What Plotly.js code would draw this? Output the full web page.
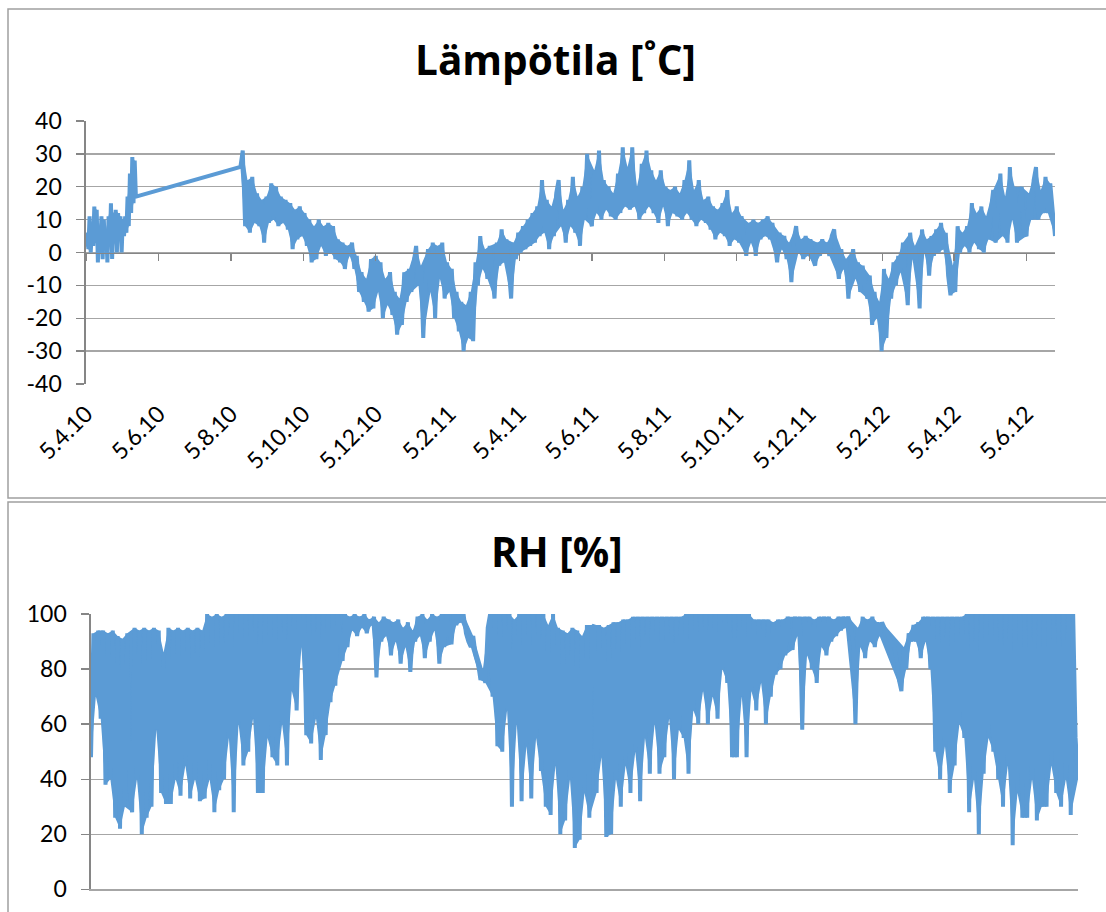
<!DOCTYPE html>
<html><head><meta charset="utf-8">
<script src="https://cdn.plot.ly/plotly-3.0.1.min.js"></script>
<style>html,body{margin:0;padding:0;background:#fff}#chart{width:1106px;height:912px}</style>
</head><body><div id="chart"></div>
<script>
// ---------- texts & ticks ----------
const tempTitle = 'Lämpötila [˚C]';
const rhTitle = 'RH [%]';
const tickDates = ['2010-04-05','2010-06-05','2010-08-05','2010-10-05','2010-12-05','2011-02-05','2011-04-05',
                   '2011-06-05','2011-08-05','2011-10-05','2011-12-05','2012-02-05','2012-04-05','2012-06-05'];
const tickLabels = ['5.4.10','5.6.10','5.8.10','5.10.10','5.12.10','5.2.11','5.4.11',
                    '5.6.11','5.8.11','5.10.11','5.12.11','5.2.12','5.4.12','5.6.12'];
const tempYTicks = [-40,-30,-20,-10,0,10,20,30,40];
const rhYTicks = [0,20,40,60,80,100];
const axisStart = '2010-04-05';
const axisEnd = '2012-06-29';

// ---------- temperature, first logging period (daily) ----------
const tempSeg1Start = '2010-04-05';
const tempSeg1StepDays = 1;
const tempSeg1 = [2,6,1,11,0,9,2,14,3,13,-3,8,0,11,-2,10,1,7,-3,11,2,15,-2,12,3,13,0,12,4,11,0,10,5,11,6,17,8,24,12,29,15,28,17];

// ---------- temperature, second logging period (every 2 days) ----------
const tempSeg2Start = '2010-08-13';
const tempSeg2StepDays = 2;
const tempSeg2 = [
 26,31,8,22,6,23,9,18,8,16,
 3,17,9,21,10,20,8,17,9,16,
 7,15,1,13,4,14,5,12,2,10,
 -3,8,-2,10,2,8,-1,9,0,8,
 -2,4,-3,3,-5,2,-1,3,-5,-1,
 -12,-6,-15,-8,-18,-2,-17,-1,-12,-3,
 -20,-8,-16,-6,-19,-12,-25,-14,-22,-6,
 -15,-5,-12,-3,2,-10,-4,-26,-8,1,
 -12,3,-20,2,-8,3,-14,-3,-12,-5,
 -20,-12,-24,-15,-30,-16,-26,-12,-27,-3,
 -10,5,-5,1,-8,2,-6,-14,3,-4,
 7,-3,4,-6,-14,3,-2,6,0,8,
 1,10,2,12,3,14,5,22,6,16,
 1,14,5,18,22,8,13,3,16,8,
 23,6,17,2,20,10,30,11,8,25,
 12,31,10,22,13,20,11,18,10,24,
 12,32,14,26,13,32,14,20,10,27,
 12,31,14,25,12,22,9,25,14,20,
 8,19,12,20,11,18,10,22,12,28,
 10,19,8,22,10,16,9,17,7,14,
 4,13,6,15,5,19,2,12,4,14,
 3,11,5,-1,9,3,10,-1,9,4,
 10,5,11,4,9,2,-3,6,1,5,
 -2,3,-9,4,8,0,4,-2,5,-1,
 4,-2,-4,3,-1,4,0,3,-1,5,
 7,-2,-8,1,-5,-2,-14,-4,1,-8,
 -3,-12,-4,-10,-14,-7,-22,-12,-20,-15,
 -30,-5,-26,-8,-14,-3,-10,-1,-6,3,
 -8,-16,6,-2,2,-4,-17,7,0,4,
 -7,5,-1,7,0,9,1,6,-7,-13,
 -4,-12,8,0,6,2,8,0,15,3,
 12,1,14,0,11,4,13,19,3,14,
 24,5,17,3,26,10,20,3,15,20,
 6,5,18,10,22,26,10,19,12,23,
 12,21,14,5
];

// ---------- relative humidity (every 2 days) ----------
const rhStart = '2010-04-05';
const rhStepDays = 2;
const rhValues = [
 48,93,70,94,62,94,38,93,40,94,
 26,92,22,91,30,93,36,28,95,40,
 94,20,95,26,94,30,95,58,94,35,
 86,31,95,31,94,40,95,34,94,45,
 95,33,94,40,95,32,94,33,100,40,
 99,28,100,36,99,40,100,55,100,28,
 100,60,100,45,100,50,100,62,100,35,
 100,35,100,55,100,48,100,45,100,60,
 100,45,100,72,100,65,100,88,100,56,
 100,53,100,62,100,47,100,56,100,68,
 100,74,100,90,83,100,88,99,94,100,
 92,99,95,100,93,98,96,99,77,97,
 90,99,92,98,85,97,90,98,82,95,
 88,97,79,94,90,99,92,100,84,98,
 90,100,94,99,82,100,88,100,95,89,
 100,96,100,97,100,93,90,88,92,85,
 82,76,80,75,95,100,70,100,52,100,
 50,100,65,100,30,98,60,100,32,100,
 52,100,33,100,55,100,43,100,30,96,
 27,100,45,95,20,94,25,93,40,95,
 15,94,18,92,35,96,26,95,96,35,
 96,48,95,19,96,20,97,40,97,30,
 98,45,98,35,99,50,99,32,99,55,
 99,42,99,60,99,42,99,48,99,62,
 99,40,99,58,99,55,100,42,100,65,
 100,60,100,72,100,60,100,70,100,62,
 100,80,100,75,100,48,100,48,100,70,
 100,48,100,72,98,65,98,75,98,60,
 98,70,97,78,98,80,98,85,99,90,
 87,99,92,99,58,99,85,99,80,98,
 75,99,88,99,85,99,90,98,92,99,
 94,99,95,99,96,90,60,95,88,99,
 84,98,90,99,88,97,92,97,95,93,
 91,89,88,84,76,72,88,80,93,90,
 96,90,97,84,99,90,99,80,99,50,
 99,40,99,52,99,35,99,45,99,60,
 99,55,100,28,100,40,100,20,100,42,
 100,55,100,50,100,40,100,30,100,45,
 100,16,100,35,100,26,100,26,100,40,
 100,25,100,30,100,30,100,45,100,35,
 100,30,100,40,100,27,100,55,40
];

// ---------- helpers ----------
function dateSeries(start, stepDays, n) {
  const t0 = Date.parse(start + 'T00:00:00Z');
  const out = [];
  for (let i = 0; i < n; i++) out.push(new Date(t0 + i * stepDays * 86400000).toISOString().slice(0, 10));
  return out;
}
// polygon through the local maxima (top) and local minima (bottom) of a dense oscillating series
function envelope(xs, ys) {
  const up = [], lo = [], n = ys.length;
  for (let i = 0; i < n; i++) {
    const p = i > 0 ? ys[i - 1] : ys[i], q = i < n - 1 ? ys[i + 1] : ys[i];
    if (i === 0 || i === n - 1 || (ys[i] >= p && ys[i] >= q)) up.push(i);
    if (i === 0 || i === n - 1 || (ys[i] <= p && ys[i] <= q)) lo.push(i);
  }
  lo.reverse();
  const idx = up.concat(lo);
  return {x: idx.map(i => xs[i]), y: idx.map(i => ys[i])};
}

const W = 1106, H = 912;
const fx = p => p / W;
const fy = p => 1 - p / H;

const tempX1 = dateSeries(tempSeg1Start, tempSeg1StepDays, tempSeg1.length);
const tempX2 = dateSeries(tempSeg2Start, tempSeg2StepDays, tempSeg2.length);
const tempX = tempX1.concat(tempX2);
const tempY = tempSeg1.concat(tempSeg2);
const rhX = dateSeries(rhStart, rhStepDays, rhValues.length);

const BLUE = '#5B9BD5';
const lineStyle = {color: BLUE, width: 4};
const FONT = 'Lato, "Open Sans", "DejaVu Sans", sans-serif';
const TITLE_FONT = '"Open Sans", Lato, sans-serif';
const GRID = '#a6a6a6', AXIS = '#868686';

const tempRange = [-40, 40];
const tempDomain = [fy(384), fy(121)];
const zeroPos = tempDomain[0] + (0 - tempRange[0]) / (tempRange[1] - tempRange[0]) * (tempDomain[1] - tempDomain[0]);

function band(xs, ys, xa, ya) {
  const e = envelope(xs, ys);
  return {x: e.x, y: e.y, type: 'scatter', mode: 'lines', fill: 'toself', fillcolor: BLUE,
          line: {width: 0, color: BLUE}, xaxis: xa, yaxis: ya, hoverinfo: 'skip', showlegend: false};
}

const traces = [
  band(tempX1, tempSeg1, 'x', 'y'),
  band(tempX2, tempSeg2, 'x', 'y'),
  {x: tempX, y: tempY, type: 'scatter', mode: 'lines', line: lineStyle, xaxis: 'x', yaxis: 'y', hoverinfo: 'skip', showlegend: false},
  {x: [axisStart, axisEnd], y: [null, null], type: 'scatter', mode: 'lines', xaxis: 'x3', yaxis: 'y', hoverinfo: 'skip', showlegend: false},
  band(rhX, rhValues, 'x2', 'y2'),
  {x: rhX, y: rhValues, type: 'scatter', mode: 'lines', line: lineStyle, xaxis: 'x2', yaxis: 'y2', hoverinfo: 'skip', showlegend: false}
];

const tickFont = {family: FONT, size: 23, color: '#000'};
const layout = {
  width: W, height: H,
  margin: {l: 0, r: 0, t: 0, b: 0},
  paper_bgcolor: '#fff', plot_bgcolor: 'rgba(0,0,0,0)',
  showlegend: false,
  xaxis: {
    domain: [fx(86), fx(1055)], anchor: 'y', type: 'date', range: [axisStart, axisEnd],
    tickmode: 'array', tickvals: tickDates, ticktext: tickLabels, tickangle: -45,
    showgrid: false, showline: false, zeroline: false, ticks: '', tickfont: tickFont,
    ticklabelstandoff: 11
  },
  xaxis3: {
    overlaying: 'x', anchor: 'free', position: zeroPos, type: 'date', range: [axisStart, axisEnd],
    tickmode: 'array', tickvals: tickDates, ticks: 'outside', ticklen: 7, tickwidth: 1.3, tickcolor: AXIS,
    showticklabels: false, showline: true, linecolor: AXIS, linewidth: 1.6, showgrid: false, zeroline: false
  },
  yaxis: {
    domain: tempDomain, anchor: 'x', range: tempRange, tickmode: 'array', tickvals: tempYTicks,
    ticktext: tempYTicks.map(String),
    showgrid: true, gridcolor: GRID, gridwidth: 1.3, zeroline: false,
    showline: true, linecolor: AXIS, linewidth: 1.6,
    ticks: 'outside', ticklen: 8, tickwidth: 1.3, tickcolor: AXIS,
    tickfont: tickFont, ticklabelstandoff: 10
  },
  xaxis2: {
    domain: [fx(91), fx(1078)], anchor: 'y2', type: 'date', range: [axisStart, axisEnd],
    showticklabels: false, ticks: '', showgrid: false, zeroline: false,
    showline: true, linecolor: GRID, linewidth: 1.3
  },
  yaxis2: {
    domain: [fy(889.3), fy(614)], anchor: 'x2', range: [0, 100], tickmode: 'array', tickvals: rhYTicks,
    ticktext: rhYTicks.map(String),
    showgrid: true, gridcolor: GRID, gridwidth: 1.3, zeroline: false,
    showline: true, linecolor: AXIS, linewidth: 1.6,
    ticks: 'outside', ticklen: 8, tickwidth: 1.3, tickcolor: AXIS,
    tickfont: tickFont, ticklabelstandoff: 10
  },
  annotations: [
    {text: tempTitle, xref: 'paper', yref: 'paper', x: fx(555), y: fy(59), xanchor: 'center', yanchor: 'middle',
     showarrow: false, font: {family: TITLE_FONT, size: 40.5, color: '#000', weight: 'bold'}},
    {text: rhTitle, xref: 'paper', yref: 'paper', x: fx(557), y: fy(551), xanchor: 'center', yanchor: 'middle',
     showarrow: false, font: {family: TITLE_FONT, size: 40.5, color: '#000', weight: 'bold'}}
  ],
  shapes: [
    {type: 'rect', xref: 'paper', yref: 'paper', x0: fx(8), x1: fx(1120), y0: fy(498), y1: fy(9),
     line: {color: '#a0a0a0', width: 1.5}, fillcolor: 'rgba(0,0,0,0)', layer: 'below'},
    {type: 'rect', xref: 'paper', yref: 'paper', x0: fx(8), x1: fx(1120), y0: fy(930), y1: fy(502),
     line: {color: '#a0a0a0', width: 1.5}, fillcolor: 'rgba(0,0,0,0)', layer: 'below'}
  ]
};

Plotly.newPlot('chart', traces, layout, {staticPlot: true, displayModeBar: false});
</script>
</body></html>
